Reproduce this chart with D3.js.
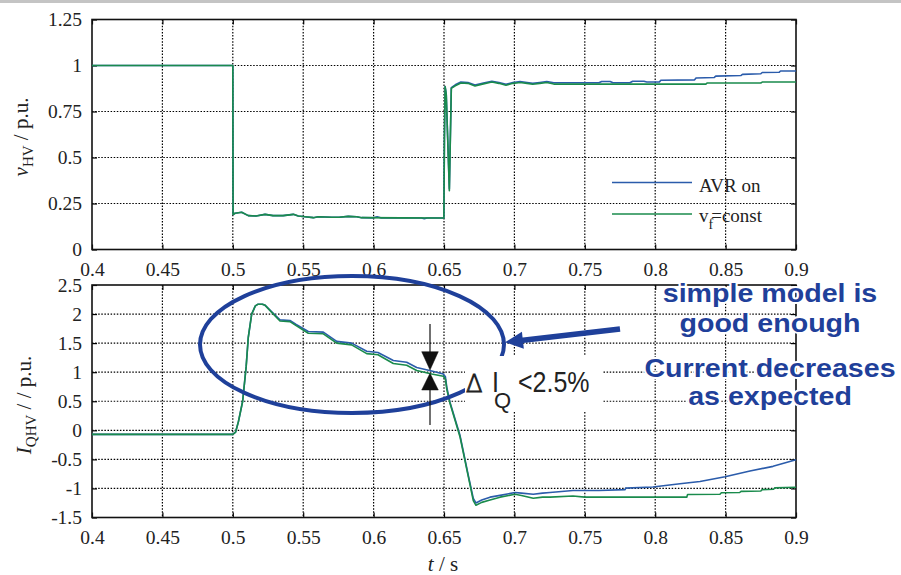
<!DOCTYPE html>
<html>
<head>
<meta charset="utf-8">
<script src="https://cdn.jsdelivr.net/npm/d3@7"></script>
<style>
  html, body { margin: 0; padding: 0; background: #fff; }
  svg { display: block; }
</style>
</head>
<body>
<svg id="chart" width="901" height="575"></svg>
<script>
// ---------------- DATA ----------------
const xTicks = [0.4, 0.45, 0.5, 0.55, 0.6, 0.65, 0.7, 0.75, 0.8, 0.85, 0.9];
const xTickLabels = ["0.4", "0.45", "0.5", "0.55", "0.6", "0.65", "0.7", "0.75", "0.8", "0.85", "0.9"];
const topYTicks = [0, 0.25, 0.5, 0.75, 1, 1.25];
const topYTickLabels = ["0", "0.25", "0.5", "0.75", "1", "1.25"];
const botYTicks = [-1.5, -1, -0.5, 0, 0.5, 1, 1.5, 2, 2.5];
const botYTickLabels = ["-1.5", "-1", "-0.5", "0", "0.5", "1", "1.5", "2", "2.5"];
const seriesNames = ["AVR on", "const"];

// Top plot: v_HV, AVR on
const tTopAVR = [0.4, 0.5, 0.5002, 0.5016, 0.5063, 0.511, 0.5165, 0.5229, 0.5286, 0.5357,
  0.543, 0.5465, 0.5513, 0.5572, 0.5607, 0.5702, 0.5755, 0.582, 0.588, 0.5915,
  0.6, 0.6025, 0.605, 0.62, 0.634, 0.636, 0.638, 0.6499, 0.6503, 0.6508,
  0.6516, 0.6538, 0.6552, 0.658, 0.662, 0.667, 0.672, 0.678, 0.684, 0.689,
  0.694, 0.699, 0.704, 0.709, 0.713, 0.718, 0.723, 0.728, 0.76, 0.762,
  0.768, 0.77, 0.782, 0.784, 0.792, 0.794, 0.803, 0.804, 0.828, 0.829,
  0.842, 0.843, 0.861, 0.862, 0.875, 0.876, 0.888, 0.889, 0.9];
const vTopAVR = [1, 1, 0.19, 0.197, 0.202, 0.184, 0.182, 0.191, 0.184, 0.184,
  0.191, 0.182, 0.178, 0.173, 0.178, 0.175, 0.175, 0.18, 0.178, 0.173,
  0.172, 0.178, 0.172, 0.171, 0.171, 0.167, 0.171, 0.171, 0.6, 0.885,
  0.845, 0.33, 0.88, 0.895, 0.91, 0.908, 0.894, 0.905, 0.914, 0.908,
  0.898, 0.908, 0.913, 0.908, 0.903, 0.908, 0.913, 0.906, 0.906, 0.913,
  0.913, 0.906, 0.906, 0.914, 0.914, 0.91, 0.91, 0.92, 0.922, 0.932,
  0.935, 0.942, 0.946, 0.952, 0.955, 0.962, 0.963, 0.97, 0.97];

// Top plot: v_HV, v_f = const
const tTopConst = [0.4, 0.5, 0.5002, 0.5016, 0.5063, 0.511, 0.5165, 0.5229, 0.5286, 0.5357,
  0.543, 0.5465, 0.5513, 0.5572, 0.5607, 0.5702, 0.5755, 0.582, 0.588, 0.5915,
  0.62, 0.6499, 0.6503, 0.6508, 0.6516, 0.6538, 0.6552, 0.658, 0.662, 0.667,
  0.672, 0.678, 0.684, 0.689, 0.694, 0.699, 0.704, 0.709, 0.713, 0.718,
  0.723, 0.728, 0.75, 0.8, 0.836, 0.837, 0.875, 0.876, 0.9];
const vTopConst = [1, 1, 0.19, 0.197, 0.202, 0.184, 0.182, 0.191, 0.184, 0.184,
  0.191, 0.182, 0.178, 0.173, 0.178, 0.175, 0.175, 0.18, 0.178, 0.173,
  0.172, 0.171, 0.6, 0.885, 0.84, 0.32, 0.876, 0.89, 0.905, 0.903,
  0.889, 0.9, 0.91, 0.903, 0.893, 0.903, 0.908, 0.903, 0.898, 0.903,
  0.908, 0.899, 0.899, 0.899, 0.899, 0.905, 0.905, 0.91, 0.91];

// Bottom plot: I_QHV, AVR on
const tBotAVR = [0.4, 0.5, 0.502, 0.504, 0.507, 0.5095, 0.511, 0.5134, 0.516, 0.518,
  0.521, 0.523, 0.528, 0.5335, 0.5406, 0.545, 0.5536, 0.5643, 0.5738, 0.5844,
  0.5951, 0.6031, 0.614, 0.6235, 0.6306, 0.6413, 0.6495, 0.651, 0.652, 0.6543,
  0.6614, 0.6673, 0.6708, 0.6727, 0.6768, 0.6827, 0.6898, 0.7004, 0.705, 0.7134,
  0.72, 0.7253, 0.7416, 0.76, 0.7786, 0.779, 0.7983, 0.8176, 0.8318, 0.8496,
  0.8673, 0.8837, 0.9];
const iBotAVR = [-0.07, -0.07, -0.03, 0.15, 0.5, 1.1, 1.6, 2.0, 2.14, 2.17,
  2.17, 2.15, 2.03, 1.9, 1.89, 1.82, 1.7, 1.69, 1.53, 1.5,
  1.36, 1.34, 1.2, 1.17, 1.08, 1.02, 0.97, 0.92, 0.74, 0.48,
  -0.09, -0.78, -1.17, -1.25, -1.2, -1.15, -1.12, -1.07, -1.08, -1.1,
  -1.08, -1.07, -1.035, -1.035, -1.02, -0.995, -0.975, -0.92, -0.88, -0.8,
  -0.7, -0.62, -0.505];

// Bottom plot: I_QHV, v_f = const
const tBotConst = [0.4, 0.5, 0.502, 0.504, 0.507, 0.5095, 0.511, 0.5134, 0.516, 0.518,
  0.521, 0.523, 0.528, 0.5335, 0.5406, 0.545, 0.5536, 0.5643, 0.5738, 0.5844,
  0.5951, 0.6031, 0.614, 0.6235, 0.6306, 0.6413, 0.6495, 0.651, 0.652, 0.6543,
  0.6614, 0.6673, 0.6708, 0.6727, 0.6768, 0.6827, 0.6898, 0.7004, 0.705, 0.7134,
  0.72, 0.7253, 0.7416, 0.75, 0.8224, 0.823, 0.846, 0.847, 0.86, 0.861,
  0.875, 0.876, 0.884, 0.885, 0.9];
const iBotConst = [-0.07, -0.07, -0.03, 0.15, 0.5, 1.1, 1.6, 2.0, 2.14, 2.17,
  2.17, 2.15, 2.02, 1.88, 1.87, 1.8, 1.67, 1.66, 1.5, 1.47,
  1.32, 1.3, 1.15, 1.12, 1.03, 0.97, 0.93, 0.88, 0.7, 0.46,
  -0.115, -0.8, -1.21, -1.29, -1.24, -1.2, -1.15, -1.1, -1.12, -1.17,
  -1.15, -1.15, -1.13, -1.15, -1.15, -1.105, -1.1, -1.075, -1.07, -1.05,
  -1.045, -1.02, -1.015, -0.99, -0.98];

// ---------------- DRAWING ----------------
const BLUE = "#2b5cab", GREEN = "#1a8b4c", ANN = "#1f409a";
const serif = '"Liberation Serif", "Times New Roman", serif';
const sans = '"Liberation Sans", Arial, sans-serif';
const svg = d3.select("#chart");

svg.append("rect").attr("x", 0).attr("y", 0).attr("width", 901).attr("height", 3).attr("fill", "#c4c4c4");

const X0 = 92, X1 = 796;
const x = d3.scaleLinear().domain([0.4, 0.9]).range([X0, X1]);
const yTop = d3.scaleLinear().domain([0, 1.25]).range([249.5, 19.5]);
const yBot = d3.scaleLinear().domain([-1.5, 2.5]).range([517.5, 285]);

function panel(y, yTicks, yLabels) {
  const g = svg.append("g");
  const [yb, yt] = y.range();
  // grid
  const grid = g.append("g").attr("stroke", "#000").attr("stroke-width", 1.2)
    .attr("stroke-dasharray", "1.5,1.6");
  grid.selectAll("line.v").data(xTicks.slice(1, -1)).join("line")
    .attr("x1", d => x(d)).attr("x2", d => x(d)).attr("y1", yt).attr("y2", yb);
  grid.selectAll("line.h").data(yTicks.slice(1, -1)).join("line")
    .attr("x1", X0).attr("x2", X1).attr("y1", d => y(d)).attr("y2", d => y(d));
  // axes with inward ticks
  const fmtX = (d, i) => xTickLabels[i];
  const fmtY = (d, i) => yLabels[i];
  const axB = g.append("g").attr("transform", `translate(0,${yb})`)
    .call(d3.axisBottom(x).tickValues(xTicks).tickFormat(fmtX).tickSizeInner(-5).tickSizeOuter(0).tickPadding(12.5));
  g.append("g").attr("transform", `translate(0,${yt})`)
    .call(d3.axisTop(x).tickValues(xTicks).tickFormat("").tickSizeInner(-5).tickSizeOuter(0));
  const axL = g.append("g").attr("transform", `translate(${X0},0)`)
    .call(d3.axisLeft(y).tickValues(yTicks).tickFormat(fmtY).tickSizeInner(-5).tickSizeOuter(0).tickPadding(10));
  g.append("g").attr("transform", `translate(${X1},0)`)
    .call(d3.axisRight(y).tickValues(yTicks).tickFormat("").tickSizeInner(-5).tickSizeOuter(0));
  [axB, axL].forEach(a => a.attr("font-family", serif).attr("font-size", 19.5));
  g.selectAll(".domain").remove();
  g.selectAll(".tick line").attr("stroke", "#000").attr("stroke-width", 1.2);
  g.selectAll(".tick text").attr("fill", "#222")
    .attr("font-family", serif).attr("font-size", 19.5);
  // frame
  g.append("rect").attr("x", X0).attr("y", yt).attr("width", X1 - X0).attr("height", yb - yt)
    .attr("fill", "none").attr("stroke", "#111").attr("stroke-width", 1.6);
  return g;
}

panel(yTop, topYTicks, topYTickLabels);
panel(yBot, botYTicks, botYTickLabels);

function drawLine(ts, vs, y, color) {
  const pts = d3.zip(ts, vs);
  svg.append("path").datum(pts)
    .attr("fill", "none").attr("stroke", color).attr("stroke-width", 1.6)
    .attr("stroke-linejoin", "round")
    .attr("d", d3.line().x(d => x(d[0])).y(d => y(d[1])));
}
drawLine(tTopAVR, vTopAVR, yTop, BLUE);
drawLine(tTopConst, vTopConst, yTop, GREEN);
drawLine(tBotAVR, iBotAVR, yBot, BLUE);
drawLine(tBotConst, iBotConst, yBot, GREEN);

// legend
const leg = svg.append("g");
leg.append("line").attr("x1", 612).attr("x2", 692).attr("y1", 182.5).attr("y2", 182.5).attr("stroke", BLUE).attr("stroke-width", 1.6);
leg.append("line").attr("x1", 612).attr("x2", 692).attr("y1", 214).attr("y2", 214).attr("stroke", GREEN).attr("stroke-width", 1.6);
leg.append("text").attr("x", 699).attr("y", 191.5).attr("font-family", serif).attr("font-size", 19).attr("fill", "#222")
  .text(seriesNames[0]);
const lt = leg.append("text").attr("x", 699).attr("y", 222).attr("font-family", serif).attr("font-size", 19).attr("fill", "#222");
lt.append("tspan").text("v");
lt.append("tspan").attr("dy", 7).attr("font-size", 14).text("f");
lt.append("tspan").attr("dy", -7).attr("dx", -2).text("=" + seriesNames[1]);

// axis titles
const yl1 = svg.append("text").attr("transform", "translate(28,137) rotate(-90)")
  .attr("text-anchor", "middle").attr("font-family", serif).attr("font-size", 21).attr("fill", "#222");
yl1.append("tspan").attr("font-style", "italic").text("v");
yl1.append("tspan").attr("font-size", 15).attr("dy", 5).text("HV");
yl1.append("tspan").attr("dy", -5).text(" / p.u.");

const yl2 = svg.append("text").attr("transform", "translate(31,405) rotate(-90)")
  .attr("text-anchor", "middle").attr("font-family", serif).attr("font-size", 21).attr("fill", "#222");
yl2.append("tspan").attr("font-style", "italic").text("I");
yl2.append("tspan").attr("font-size", 15).attr("dy", 5).text("QHV");
yl2.append("tspan").attr("dy", -5).text(" / / p.u.");

const xl = svg.append("text").attr("x", 443).attr("y", 571).attr("text-anchor", "middle")
  .attr("font-family", serif).attr("font-size", 21).attr("fill", "#222");
xl.append("tspan").attr("font-style", "italic").text("t");
xl.append("tspan").text(" / s");

// ---------------- ANNOTATIONS ----------------
svg.append("ellipse").attr("cx", 352).attr("cy", 344.5).attr("rx", 152).attr("ry", 68.5)
  .attr("fill", "none").attr("stroke", ANN).attr("stroke-width", 4);

// arrow pointing to ellipse
(function () {
  const sx = 620, sy = 329, tx = 505, ty = 342.3;
  const L = Math.hypot(tx - sx, ty - sy), ux = (tx - sx) / L, uy = (ty - sy) / L;
  const hl = 18, hw = 8.5, bx = tx - ux * hl, by = ty - uy * hl;
  svg.append("line").attr("x1", sx).attr("y1", sy).attr("x2", bx + ux * 2).attr("y2", by + uy * 2)
    .attr("stroke", ANN).attr("stroke-width", 5.5);
  svg.append("polygon").attr("fill", ANN)
    .attr("points", `${tx},${ty} ${bx - uy * hw},${by + ux * hw} ${bx + uy * hw},${by - ux * hw}`);
})();

// delta I arrows
const da = svg.append("g").attr("stroke", "#111").attr("fill", "#111");
da.append("line").attr("x1", 430).attr("x2", 430).attr("y1", 324).attr("y2", 352).attr("stroke-width", 1.2);
da.append("polygon").attr("points", "421.7,351.7 438.3,351.7 430,370").attr("stroke-width", 0.5);
da.append("polygon").attr("points", "421.7,390 438.3,390 430,373.3").attr("stroke-width", 0.5);
da.append("line").attr("x1", 430).attr("x2", 430).attr("y1", 390).attr("y2", 425).attr("stroke-width", 1.2);

// delta I_Q label box
svg.append("rect").attr("x", 465).attr("y", 356).attr("width", 138).attr("height", 55).attr("fill", "#fff");
const dl = svg.append("g").attr("font-family", sans).attr("fill", "#222");
dl.append("text").attr("x", 466).attr("y", 392).attr("font-size", 24).attr("font-family", '"DejaVu Sans", sans-serif')
  .attr("font-weight", 200).attr("fill", "none").attr("stroke", "#222").attr("stroke-width", 1).text("\u0394");
dl.append("text").attr("transform", "translate(492,392) scale(1,1.2)").attr("font-size", 25).text("I");
dl.append("text").attr("x", 494).attr("y", 408).attr("font-size", 22).text("Q");
dl.append("text").attr("transform", "translate(518,392) scale(1,1.15)").attr("font-size", 25).text("<2.5%");

// blue remarks
const remarks = [["simple model is", 301.5], ["good enough", 331.5], ["Current decreases", 376.5], ["as expected", 405]];
remarks.forEach(([s, yy]) => {
  svg.append("text").attr("transform", `translate(770,${yy}) scale(1.1,1)`)
    .attr("text-anchor", "middle").attr("font-family", sans).attr("font-weight", "bold")
    .attr("font-size", 26).attr("fill", ANN)
    .attr("stroke", "#fff").attr("stroke-width", 4).attr("paint-order", "stroke").attr("stroke-linejoin", "round")
    .text(s);
});
</script>
</body>
</html>
